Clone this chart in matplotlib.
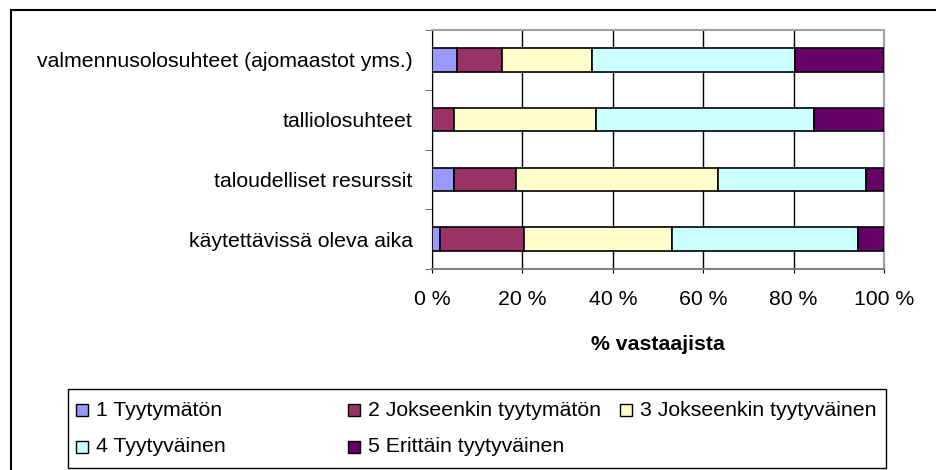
import numpy as np
import matplotlib.pyplot as plt
from matplotlib.patches import Rectangle

plt.rcParams['font.family'] = ['Liberation Sans', 'DejaVu Sans']

categories = ['käytettävissä oleva aika', 'taloudelliset resurssit',
              'talliolosuhteet', 'valmennusolosuhteet (ajomaastot yms.)']
series = ['1 Tyytymätön', '2 Jokseenkin tyytymätön', '3 Jokseenkin tyytyväinen',
          '4 Tyytyväinen', '5 Erittäin tyytyväinen']
colors = ['#9999FF', '#993366', '#FFFFCC', '#CCFFFF', '#660066']
values = np.array([
    [1.7, 18.6, 32.8, 41.1, 5.8],
    [4.8, 13.7, 44.7, 32.8, 4.0],
    [0.0, 4.9, 31.3, 48.3, 15.5],
    [5.5, 10.0, 19.9, 45.0, 19.6],
])
xticks = [0, 20, 40, 60, 80, 100]
xlabel = '% vastaajista'

W, H = 936, 470
fs = 15.3
fig = plt.figure(figsize=(W / 100, H / 100), dpi=100)
ax = fig.add_axes([432 / W, 1 - 269 / H, 452 / W, 239 / H])

y = np.arange(len(categories))
left = np.zeros(len(categories))
for j in range(len(series)):
    ax.barh(y, values[:, j], left=left, height=0.39, color=colors[j],
            edgecolor='black', linewidth=1.2, zorder=3)
    left += values[:, j]

ax.set_xlim(0, 100)
ax.set_ylim(-0.5, len(categories) - 0.5)
ax.set_xticks(xticks)
ax.set_xticklabels([f'{t} %' for t in xticks], fontsize=fs)
ax.set_yticks(y)
ax.set_yticklabels(categories, fontsize=fs)
ax.tick_params(axis='y', length=0, pad=14)
ax.set_yticks(np.arange(-0.5, len(categories), 1), minor=True)
ax.tick_params(axis='y', which='minor', length=5, color='#555555', direction='out')
ax.tick_params(axis='x', length=6, direction='inout', color='black', pad=12)
ax.grid(axis='x', color='black', linewidth=1, zorder=0)
ax.set_xlabel(xlabel, fontsize=fs, fontweight='bold', labelpad=19)

for s in ['top', 'right']:
    ax.spines[s].set_color('#a0a0a0')
    ax.spines[s].set_linewidth(1.5)
ax.spines['bottom'].set_color('#808080')
ax.spines['bottom'].set_linewidth(1.5)
ax.spines['left'].set_color('black')

# outer chart frame
fig.patches.append(Rectangle((11 / W, -0.05), 1.2, 1 - 10 / H + 0.05,
                             transform=fig.transFigure, fill=False,
                             edgecolor='black', linewidth=1.5))

# legend box laid out like the original (equal-width columns)
fig.patches.append(Rectangle((68 / W, 1 - 468 / H), (886 - 68) / W, (468 - 389) / H,
                             transform=fig.transFigure, fill=False,
                             edgecolor='black', linewidth=1))
col_x = [76, 348, 620]
row_y = [410, 447]
for j, name in enumerate(series):
    cx = col_x[j % 3]
    cy = row_y[j // 3]
    fig.patches.append(Rectangle((cx / W, 1 - (cy + 6) / H), 12 / W, 12 / H,
                                 transform=fig.transFigure, facecolor=colors[j],
                                 edgecolor='black', linewidth=1))
    fig.text((cx + 20) / W, 1 - cy / H, name, fontsize=fs, va='center', ha='left')

fig.savefig('out.png', dpi=100)
